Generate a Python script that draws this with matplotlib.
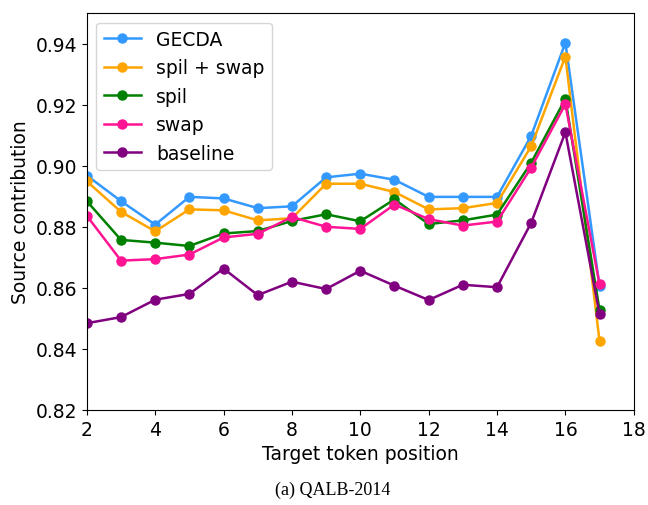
import matplotlib.pyplot as plt

# Datos
positions = list(range(2, 18))

gecda = [0.8968, 0.8884, 0.8807, 0.8898, 0.8893, 0.8861, 0.8867, 0.8962,
         0.8974, 0.8954, 0.8898, 0.8898, 0.8898, 0.9098, 0.9403, 0.8605]
spil_swap = [0.8949, 0.8849, 0.8785, 0.8857, 0.8854, 0.8821, 0.8828, 0.8941,
             0.8941, 0.8914, 0.8857, 0.8861, 0.8878, 0.9064, 0.9358, 0.8425]
spil = [0.8884, 0.8757, 0.8748, 0.8737, 0.8778, 0.8786, 0.8819, 0.8841,
        0.8818, 0.8890, 0.8809, 0.8821, 0.8840, 0.9010, 0.9219, 0.8526]
swap = [0.8836, 0.8689, 0.8694, 0.8709, 0.8765, 0.8777, 0.8832, 0.8800,
        0.8793, 0.8873, 0.8825, 0.8804, 0.8817, 0.8994, 0.9202, 0.8611]
baseline = [0.8484, 0.8504, 0.8561, 0.8580, 0.8663, 0.8576, 0.8620, 0.8596,
            0.8656, 0.8607, 0.8560, 0.8610, 0.8602, 0.8813, 0.9110, 0.8513]

series = [
    ("GECDA", gecda, "#3399ff"),
    ("spil + swap", spil_swap, "orange"),
    ("spil", spil, "green"),
    ("swap", swap, "deeppink"),
    ("baseline", baseline, "purple"),
]

fig = plt.figure(figsize=(6.48, 5.06), dpi=100)
ax = fig.add_axes([0.134, 0.188, 0.844, 0.784])

for name, vals, color in series:
    ax.plot(positions, vals, marker="o", markersize=6.5, linewidth=1.8,
            color=color, label=name)

ax.set_xlim(2, 18)
ax.set_ylim(0.82, 0.95)
ax.set_xticks(range(2, 19, 2))
ax.set_yticks([0.82, 0.84, 0.86, 0.88, 0.90, 0.92, 0.94])
ax.tick_params(labelsize=13.5)
ax.set_xlabel("Target token position", fontsize=13.5)
ax.set_ylabel("Source contribution", fontsize=13.5)
ax.legend(loc="upper left", fontsize=13.5)

# Pie de figura
fig.text(0.514, 0.03, "(a) QALB-2014", ha="center", va="center",
         fontsize=13, family="Liberation Serif")

fig.savefig("out.png", dpi=100)
